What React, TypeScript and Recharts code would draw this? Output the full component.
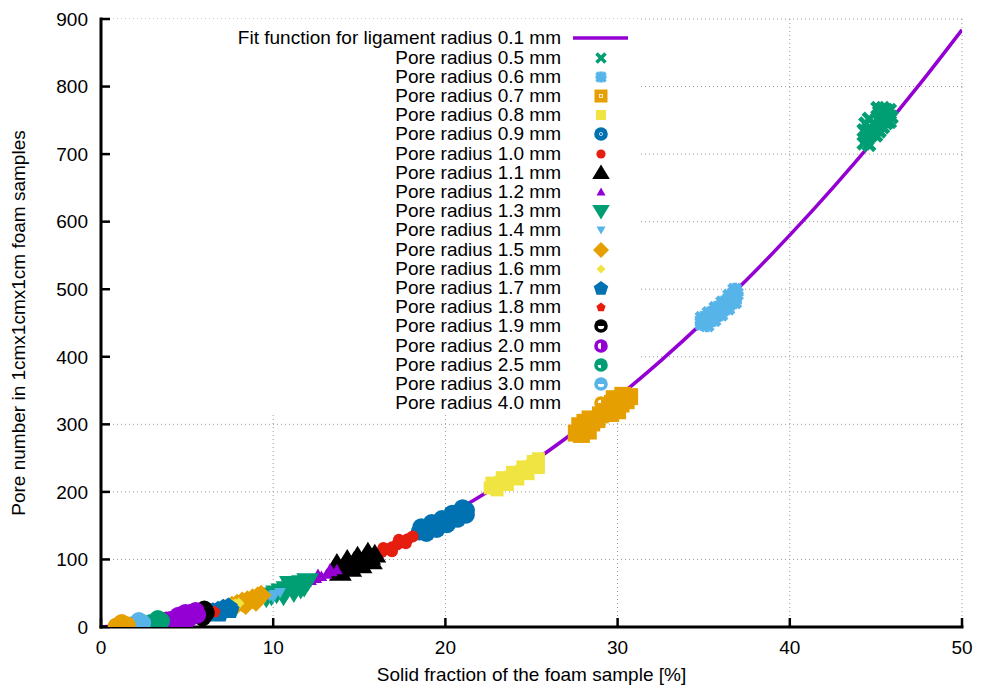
import React from 'react';
import { ComposedChart, XAxis, YAxis, CartesianGrid, Line, Scatter, ReferenceArea, Legend } from 'recharts';

const FONT = '"Liberation Sans", Arial, Helvetica, sans-serif';

const xTicks = [0, 10, 20, 30, 40, 50];
const yTicks = [0, 100, 200, 300, 400, 500, 600, 700, 800, 900];

const xTitle = 'Solid fraction of the foam sample [%]';
const yTitle = 'Pore number in 1cmx1cmx1cm foam samples';
const fitName = 'Fit function for ligament radius 0.1 mm';

// fit curve
const fitX = [0, 2.5, 5, 7.5, 10, 12.5, 15, 17.5, 20, 22.5, 25, 27.5, 30, 32.5, 35, 37.5, 40, 42.5, 45, 47.5, 50];
const fitY = [0, 6, 17, 31, 50, 72, 98, 128, 163, 201, 243, 289, 340, 394, 452, 514, 580, 650, 724, 802, 884];

const pore05 = [[44.3, 716], [44.5, 722], [44.7, 728], [44.9, 734], [45.1, 740], [45.3, 746], [45.5, 752], [45.7, 758], [45.6, 765], [45.4, 768], [44.5, 730], [44.7, 738], [44.9, 745], [45.1, 752], [45.3, 758], [45.0, 728], [45.2, 734], [45.4, 740], [45.6, 746], [44.6, 714], [45.5, 760], [45.2, 762], [44.3, 735], [44.4, 745], [45.8, 748], [45.9, 755], [45.8, 765], [45.1, 768], [44.6, 752]];
const pore06 = [[34.9, 449], [35.1, 453], [35.3, 457], [35.5, 461], [35.7, 465], [35.9, 469], [36.1, 474], [36.3, 478], [36.5, 483], [36.7, 488], [36.9, 493], [34.9, 457], [35.3, 464], [35.7, 472], [36.1, 480], [36.5, 490], [36.8, 499], [35.2, 447], [35.6, 455], [36.0, 463], [36.4, 472], [36.8, 481]];
const pore07 = [[27.6, 287], [27.9, 292], [28.2, 297], [28.5, 302], [28.8, 307], [27.8, 298], [28.1, 303], [28.4, 308], [27.9, 285], [28.3, 290], [29.0, 314], [29.3, 318], [29.6, 322], [29.9, 326], [30.2, 330], [30.5, 335], [30.7, 341], [29.3, 326], [29.7, 331], [30.1, 337], [29.6, 316], [30.0, 320], [30.3, 343], [29.8, 338]];
const pore08 = [[22.6, 206], [22.9, 210], [23.2, 214], [23.5, 218], [23.8, 222], [24.1, 226], [24.4, 230], [24.7, 234], [25.0, 238], [25.3, 242], [22.7, 213], [23.3, 221], [23.9, 229], [24.5, 237], [25.1, 245], [25.4, 249], [23.0, 203], [23.6, 211], [24.2, 219], [24.8, 227], [25.4, 236]];
const pore09 = [[18.5, 141], [18.8, 145], [19.1, 148], [19.4, 151], [19.7, 154], [20.0, 157], [20.3, 161], [20.6, 165], [20.9, 169], [21.2, 173], [18.6, 148], [19.2, 154], [19.8, 160], [20.4, 168], [21.0, 176], [18.9, 139], [19.5, 145], [20.1, 152], [20.7, 160], [21.2, 166]];
const pore10 = [[16.0, 108], [16.3, 111], [16.6, 115], [16.9, 118], [17.2, 122], [17.5, 126], [17.8, 130], [18.1, 134], [16.4, 117], [17.3, 129], [16.9, 112], [17.7, 124]];
const pore11 = [[13.5, 84], [13.8, 87], [14.1, 90], [14.4, 93], [14.7, 96], [15.0, 98], [15.3, 101], [15.6, 104], [15.9, 107], [13.7, 93], [14.3, 99], [14.9, 104], [15.5, 110], [13.9, 80], [14.5, 86], [15.1, 91], [15.7, 97]];
const pore12 = [[11.9, 66], [12.2, 69], [12.5, 72], [12.8, 75], [13.1, 78], [13.4, 82], [13.7, 85], [13.3, 86], [12.6, 78]];
const pore13 = [[9.6, 44], [9.9, 47], [10.2, 50], [10.5, 53], [10.8, 56], [11.1, 59], [11.4, 62], [11.7, 65], [12.0, 68], [10.6, 47], [11.2, 52], [11.6, 57], [11.0, 64], [11.8, 60]];
const pore14 = [[9.5, 43], [9.8, 46], [10.1, 48], [10.4, 51], [10.0, 44]];
const pore15 = [[7.6, 31], [7.9, 34], [8.2, 37], [8.5, 39], [8.8, 42], [9.1, 45], [9.3, 47], [8.4, 33], [9.0, 38]];
const pore16 = [[7.6, 33], [7.8, 34], [8.0, 35]];
const pore17 = [[6.2, 21], [6.5, 23], [6.8, 25], [7.1, 28], [7.4, 30], [6.9, 21], [7.5, 26]];
const pore18 = [[6.4, 22], [6.6, 23]];
const pore19 = [[5.8, 19], [6.0, 20], [6.1, 21], [5.9, 14], [6.0, 26]];
const pore20 = [[3.8, 10], [4.1, 11], [4.4, 12], [4.7, 13], [5.0, 15], [5.3, 16], [5.6, 18], [4.5, 17], [5.2, 21], [4.9, 21], [5.5, 24], [4.3, 8], [5.0, 10]];
const pore25 = [[2.9, 6], [3.2, 7], [3.5, 9], [3.3, 12]];
const pore30 = [[1.8, 3], [2.1, 4], [2.4, 6], [2.2, 9]];
const pore40 = [[0.9, 1], [1.2, 2], [1.5, 3], [1.2, 6]];

const PURPLE = '#9400D3';
const GREEN = '#009E73';
const LBLUE = '#56B4E9';
const ORANGE = '#E69F00';
const YELLOW = '#F0E442';
const BLUE = '#0072B2';
const RED = '#E51E10';
const BLACK = '#000000';

const series = [
  { name: 'Pore radius 0.5 mm', color: GREEN, kind: 'cross', pts: pore05 },
  { name: 'Pore radius 0.6 mm', color: LBLUE, kind: 'star', pts: pore06 },
  { name: 'Pore radius 0.7 mm', color: ORANGE, kind: 'osq', pts: pore07 },
  { name: 'Pore radius 0.8 mm', color: YELLOW, kind: 'sq', pts: pore08 },
  { name: 'Pore radius 0.9 mm', color: BLUE, kind: 'ocirc', pts: pore09 },
  { name: 'Pore radius 1.0 mm', color: RED, kind: 'circ', pts: pore10 },
  { name: 'Pore radius 1.1 mm', color: BLACK, kind: 'otri', pts: pore11 },
  { name: 'Pore radius 1.2 mm', color: PURPLE, kind: 'tri', pts: pore12 },
  { name: 'Pore radius 1.3 mm', color: GREEN, kind: 'odtri', pts: pore13 },
  { name: 'Pore radius 1.4 mm', color: LBLUE, kind: 'dtri', pts: pore14 },
  { name: 'Pore radius 1.5 mm', color: ORANGE, kind: 'odia', pts: pore15 },
  { name: 'Pore radius 1.6 mm', color: YELLOW, kind: 'dia', pts: pore16 },
  { name: 'Pore radius 1.7 mm', color: BLUE, kind: 'opent', pts: pore17 },
  { name: 'Pore radius 1.8 mm', color: RED, kind: 'pent', pts: pore18 },
  { name: 'Pore radius 1.9 mm', color: BLACK, kind: 'c1', pts: pore19 },
  { name: 'Pore radius 2.0 mm', color: PURPLE, kind: 'c2', pts: pore20 },
  { name: 'Pore radius 2.5 mm', color: GREEN, kind: 'c3', pts: pore25 },
  { name: 'Pore radius 3.0 mm', color: LBLUE, kind: 'c4', pts: pore30 },
  { name: 'Pore radius 4.0 mm', color: ORANGE, kind: 'c5', pts: pore40 },
];

const fitData = fitX.map((x, i) => ({ x, y: fitY[i] }));

function wedge(cx: number, cy: number, r: number, a0: number, a1: number) {
  const p0x = cx + r * Math.cos((a0 * Math.PI) / 180);
  const p0y = cy + r * Math.sin((a0 * Math.PI) / 180);
  const p1x = cx + r * Math.cos((a1 * Math.PI) / 180);
  const p1y = cy + r * Math.sin((a1 * Math.PI) / 180);
  const large = a1 - a0 > 180 ? 1 : 0;
  return `M${cx},${cy} L${p0x},${p0y} A${r},${r} 0 ${large} 1 ${p1x},${p1y} Z`;
}

function poly(cx: number, cy: number, r: number, angles: number[]) {
  return angles
    .map((a) => `${cx + r * Math.cos((a * Math.PI) / 180)},${cy + r * Math.sin((a * Math.PI) / 180)}`)
    .join(' ');
}

function Marker({ kind, cx, cy, color, solid = false, k = 1 }: { kind: string; cx: number; cy: number; color: string; solid?: boolean; k?: number }) {
  if (cx == null || cy == null || isNaN(cx) || isNaN(cy)) return <g />;
  const s = (v: number) => v * k;
  const hole = (el: any) => (solid ? null : el);
  switch (kind) {
    case 'cross':
      return (
        <g stroke={color} strokeWidth={s(3.6)}>
          <line x1={cx - s(4.5)} y1={cy - s(4.5)} x2={cx + s(4.5)} y2={cy + s(4.5)} />
          <line x1={cx - s(4.5)} y1={cy + s(4.5)} x2={cx + s(4.5)} y2={cy - s(4.5)} />
        </g>
      );
    case 'star':
      return (
        <g stroke={color} strokeWidth={s(3.6)}>
          <line x1={cx - s(4.5)} y1={cy - s(4.5)} x2={cx + s(4.5)} y2={cy + s(4.5)} />
          <line x1={cx - s(4.5)} y1={cy + s(4.5)} x2={cx + s(4.5)} y2={cy - s(4.5)} />
          <line x1={cx - s(5.5)} y1={cy} x2={cx + s(5.5)} y2={cy} />
          <line x1={cx} y1={cy - s(5.5)} x2={cx} y2={cy + s(5.5)} />
        </g>
      );
    case 'osq':
      return (
        <g>
          <rect x={cx - s(6.5)} y={cy - s(6.5)} width={s(13)} height={s(13)} fill={color} />
          {hole(<rect x={cx - 1.5} y={cy - 1.5} width={3} height={3} fill="none" stroke="#fff" strokeWidth={0.8} />)}
        </g>
      );
    case 'sq':
      return <rect x={cx - s(5)} y={cy - s(5)} width={s(10)} height={s(10)} fill={color} />;
    case 'ocirc':
      return (
        <g>
          <circle cx={cx} cy={cy} r={s(6.8)} fill={color} />
          {hole(<circle cx={cx} cy={cy} r={1.6} fill="none" stroke="#fff" strokeWidth={0.7} />)}
        </g>
      );
    case 'circ':
      return <circle cx={cx} cy={cy} r={s(4.6)} fill={color} />;
    case 'otri':
      return <polygon points={`${cx},${cy - s(8.5)} ${cx + s(8.8)},${cy + s(6)} ${cx - s(8.8)},${cy + s(6)}`} fill={color} />;
    case 'tri':
      return <polygon points={`${cx},${cy - s(4.5)} ${cx + s(4.5)},${cy + s(3.5)} ${cx - s(4.5)},${cy + s(3.5)}`} fill={color} />;
    case 'odtri':
      return <polygon points={`${cx - s(8.8)},${cy - s(6)} ${cx + s(8.8)},${cy - s(6)} ${cx},${cy + s(8.5)}`} fill={color} />;
    case 'dtri':
      return <polygon points={`${cx - s(4.5)},${cy - s(3.5)} ${cx + s(4.5)},${cy - s(3.5)} ${cx},${cy + s(4.5)}`} fill={color} />;
    case 'odia':
      return <polygon points={`${cx},${cy - s(8)} ${cx + s(8)},${cy} ${cx},${cy + s(8)} ${cx - s(8)},${cy}`} fill={color} />;
    case 'dia':
      return <polygon points={`${cx},${cy - s(4.5)} ${cx + s(4.5)},${cy} ${cx},${cy + s(4.5)} ${cx - s(4.5)},${cy}`} fill={color} />;
    case 'opent':
      return <polygon points={poly(cx, cy + 0.6, s(7.6), [-90, -18, 54, 126, 198])} fill={color} />;
    case 'pent':
      return <polygon points={poly(cx, cy + 0.4, s(4.8), [-90, -18, 54, 126, 198])} fill={color} />;
    case 'c1':
    case 'c2':
    case 'c3':
    case 'c4':
    case 'c5': {
      const arcs: Record<string, [number, number]> = { c1: [0, 180], c2: [90, 270], c3: [90, 180], c4: [0, 180], c5: [180, 270] };
      const [a0, a1] = arcs[kind];
      return (
        <g>
          <circle cx={cx} cy={cy} r={s(6.8)} fill={color} />
          {hole(<path d={wedge(cx, cy, 3.2, a0, a1)} fill="#fff" />)}
        </g>
      );
    }
    default:
      return <circle cx={cx} cy={cy} r={s(5)} fill={color} />;
  }
}

const ROW_H = 19.2;
const ROW0_TOP = 28.3;
const TEXT_RIGHT = 561;
const MARK_X = 601;

function KeyBox() {
  const rows = [{ name: fitName, kind: 'line', color: PURPLE }, ...series.map((s) => ({ name: s.name, kind: s.kind, color: s.color }))];
  return (
    <div style={{ position: 'relative', width: 981, height: 420, pointerEvents: 'none' }}>
      {rows.map((r, i) => (
        <div key={r.name} style={{ position: 'absolute', left: 0, top: ROW0_TOP + i * ROW_H, width: 981, height: ROW_H }}>
          <span
            style={{
              position: 'absolute',
              right: 981 - TEXT_RIGHT,
              top: 0,
              lineHeight: `${ROW_H}px`,
              fontSize: 19,
              fontFamily: FONT,
              color: '#000',
              whiteSpace: 'nowrap',
            }}
          >
            {r.name}
          </span>
          <svg
            width={70}
            height={ROW_H}
            style={{ position: 'absolute', left: MARK_X - 35, top: 0, overflow: 'visible' }}
          >
            {r.kind === 'line' ? (
              <line x1={7} x2={62} y1={ROW_H / 2 + 0.4} y2={ROW_H / 2 + 0.4} stroke={PURPLE} strokeWidth={3.5} />
            ) : (
              <Marker kind={r.kind} cx={35} cy={ROW_H / 2 + 0.4} color={r.color} />
            )}
          </svg>
        </div>
      ))}
    </div>
  );
}

export default function App() {
  const tickStyle = { fill: '#000', fontSize: 19, fontFamily: FONT };
  const axisLineStyle = { stroke: '#000', strokeWidth: 3, strokeLinecap: 'square' as const };
  const tickLineStyle = { stroke: '#000', strokeWidth: 2.5 };
  return (
    <div style={{ position: 'absolute', left: 0, top: 0, width: 981, height: 689, background: '#fff' }}>
      <ComposedChart width={981} height={689} margin={{ top: 19, right: 19, bottom: 0, left: 0 }}>
        <CartesianGrid stroke="#999" strokeDasharray="1 3" strokeWidth={1} />
        <ReferenceArea x1={0} x2={31.3} y1={317} y2={900} fill="#fff" fillOpacity={1} stroke="none" ifOverflow="hidden" />
        <XAxis
          xAxisId={0}
          type="number"
          dataKey="x"
          domain={[0, 50]}
          ticks={xTicks}
          allowDataOverflow
          height={62}
          tickSize={-9}
          tickMargin={22.5}
          tick={tickStyle}
          axisLine={axisLineStyle}
          tickLine={tickLineStyle}
          label={(props: any) => {
            const vb = props.viewBox || {};
            return (
              <text x={vb.x + vb.width / 2} y={vb.y + 54} textAnchor="middle" fontSize={19} fontFamily={FONT} fill="#000">
                {xTitle}
              </text>
            );
          }}
        />
        <XAxis
          xAxisId="top"
          orientation="top"
          type="number"
          dataKey="x"
          domain={[0, 50]}
          ticks={xTicks}
          allowDataOverflow
          height={0}
          tickSize={-9}
          tick={false}
          axisLine={axisLineStyle}
          tickLine={tickLineStyle}
        />
        <YAxis
          yAxisId={0}
          type="number"
          dataKey="y"
          domain={[0, 900]}
          ticks={yTicks}
          allowDataOverflow
          width={101}
          tickSize={-9}
          tickMargin={22}
          tick={tickStyle}
          axisLine={axisLineStyle}
          tickLine={tickLineStyle}
          label={(props: any) => {
            const vb = props.viewBox || {};
            const lx = vb.x + 25;
            const ly = vb.y + vb.height / 2;
            return (
              <text x={lx} y={ly} transform={`rotate(-90 ${lx} ${ly})`} textAnchor="middle" fontSize={19} fontFamily={FONT} fill="#000">
                {yTitle}
              </text>
            );
          }}
        />
        <YAxis
          yAxisId="right"
          orientation="right"
          type="number"
          dataKey="y"
          domain={[0, 900]}
          ticks={yTicks}
          allowDataOverflow
          width={0}
          tickSize={-9}
          tick={false}
          axisLine={axisLineStyle}
          tickLine={tickLineStyle}
        />
        <Line
          data={fitData}
          dataKey="y"
          type="monotone"
          stroke={PURPLE}
          strokeWidth={3.5}
          dot={false}
          activeDot={false}
          isAnimationActive={false}
          name={fitName}
        />
        {series.map((s) => (
          <Scatter
            key={s.name}
            name={s.name}
            data={s.pts.map(([x, y]) => ({ x, y }))}
            dataKey="y"
            fill={s.color}
            isAnimationActive={false}
            shape={(p: any) => <Marker kind={s.kind} cx={p.cx} cy={p.cy} color={s.color} solid k={1.3} />}
          />
        ))}
        <Legend
          layout="vertical"
          align="center"
          verticalAlign="middle"
          content={() => <KeyBox />}
          wrapperStyle={{ position: 'absolute', left: 0, top: 0, width: 981, height: 420 }}
        />
      </ComposedChart>
    </div>
  );
}
